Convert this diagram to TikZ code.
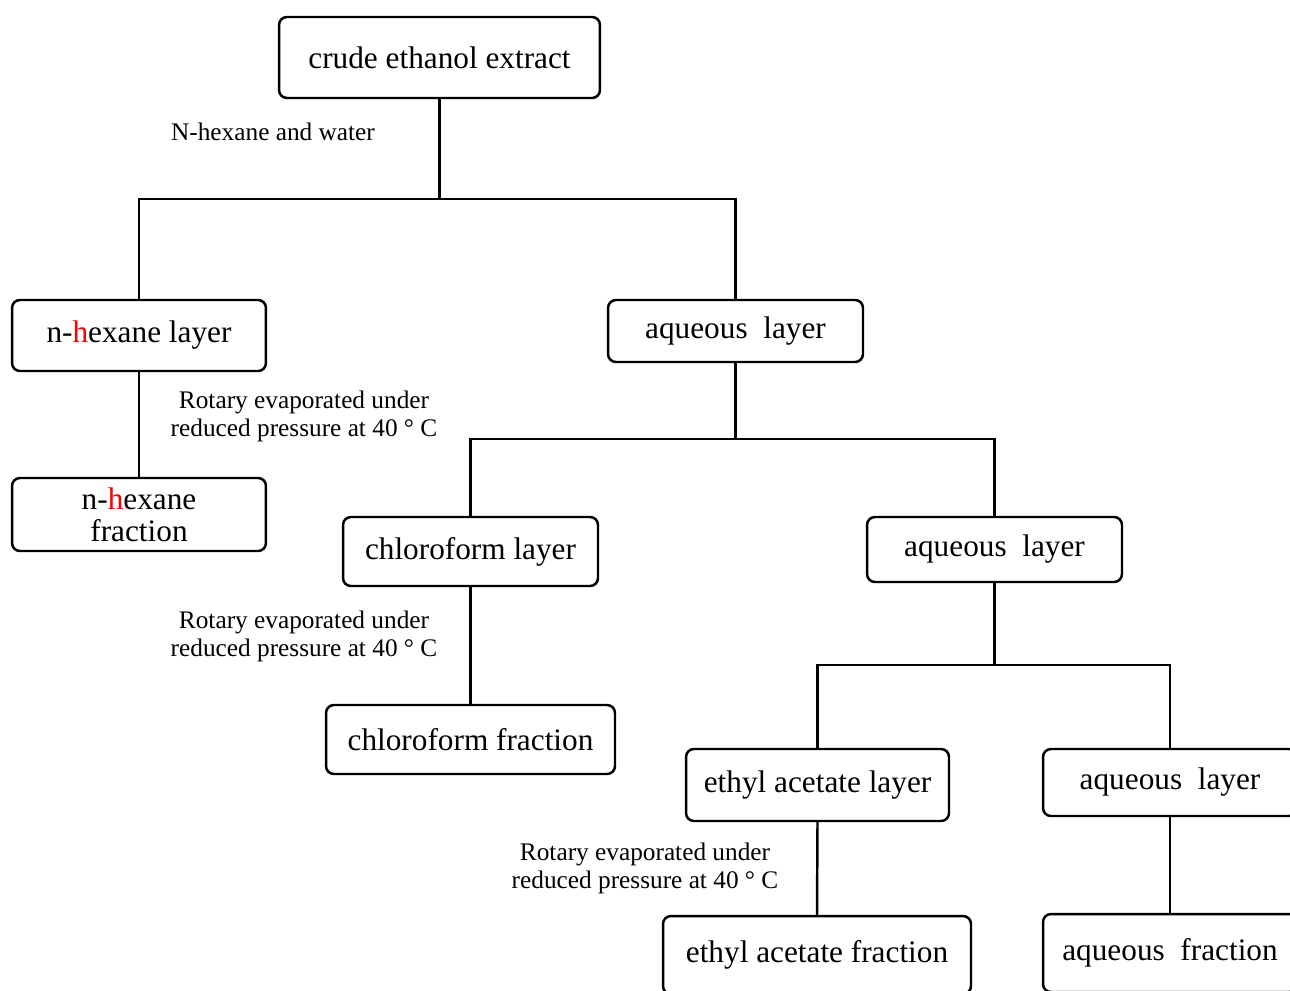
\documentclass[tikz,border=0pt]{standalone}
\usepackage{fontspec}
\setmainfont{Liberation Serif}

\begin{document}
\begin{tikzpicture}[x=0.02cm,y=-0.02cm,line width=1.4pt,
    box/.style={draw,rounded corners=4.5pt,align=center,inner sep=0pt,font=\fontsize{17.8}{18}\selectfont},
    note/.style={align=center,font=\fontsize{14.4}{16}\selectfont}]
    \useasboundingbox (0,0) rectangle (1290,990);
    \node[box,minimum width=6.42cm,minimum height=1.62cm] at (439.5,57.5) (crude) {crude ethanol extract};
    \node[box,minimum width=5.08cm,minimum height=1.42cm] at (139,335.5) (hexL) {n-\textcolor{red}{h}exane layer};
    \node[box,minimum width=5.1cm,minimum height=1.24cm] at (735.5,331) (aqA) {aqueous\ \ layer};
    \node[box,minimum width=5.08cm,minimum height=1.46cm] at (139,514.5) (hexF) {n-\textcolor{red}{h}exane\\fraction};
    \node[box,minimum width=5.1cm,minimum height=1.38cm] at (470.5,551.5) (chlL) {chloroform layer};
    \node[box,minimum width=5.1cm,minimum height=1.3cm] at (994.5,549.5) (aqB) {aqueous\ \ layer};
    \node[box,minimum width=5.78cm,minimum height=1.38cm] at (470.5,739.5) (chlF) {chloroform fraction};
    \node[box,minimum width=5.26cm,minimum height=1.44cm] at (817.5,785) (eaL) {ethyl acetate layer};
    \node[box,minimum width=5.08cm,minimum height=1.34cm] at (1170,782.5) (aqC) {aqueous\ \ layer};
    \node[box,minimum width=6.16cm,minimum height=1.56cm] at (817,955) (eaF) {ethyl acetate fraction};
    \node[box,minimum width=5.08cm,minimum height=1.56cm] at (1170,953) (aqF) {aqueous\ \ fraction};
    % splitting points
    \coordinate (s1) at (439.5,199);
    \coordinate (s2) at (735.5,439);
    \coordinate (s3) at (994.5,665);
    \draw (crude.south) -- (s1) -| (hexL.north);
    \draw (s1) -| (aqA.north);
    \draw (aqA.south) -- (s2) -| (chlL.north);
    \draw (s2) -| (aqB.north);
    \draw (aqB.south) -- (s3) -| (eaL.north);
    \draw (s3) -| (aqC.north);
    \draw (hexL.south) -- (hexF.north);
    \draw (chlL.south) -- (chlF.north);
    \draw (eaL.south) -- (eaF.north);
    \draw (aqC.south) -- (aqF.north);
    % labels
    \node[note] at (273,132) (water) {N-hexane and water};
    \node[note] at (304,416) (rotA) {Rotary evaporated under\\reduced pressure at 40 ° C};
    \node[note] at (304,636) (rotB) {Rotary evaporated under\\reduced pressure at 40 ° C};
    \node[note] at (645,868) (rotC) {Rotary evaporated under\\reduced pressure at 40 ° C};
\end{tikzpicture}
\end{document}
